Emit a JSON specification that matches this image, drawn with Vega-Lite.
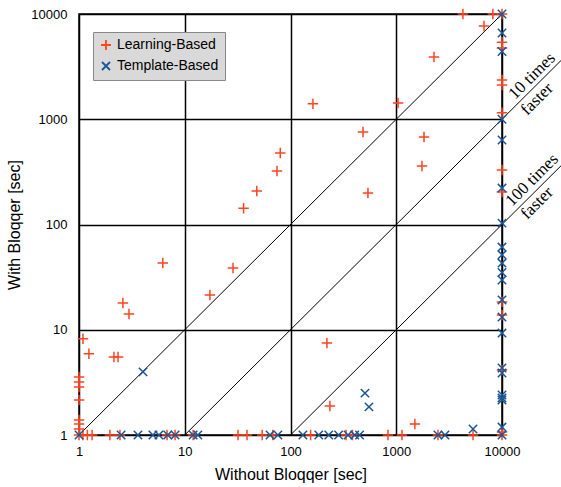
{
  "$schema": "https://vega.github.io/schema/vega-lite/v6.json",
  "autosize": "none",
  "width": 423,
  "height": 421,
  "padding": {"left": 79, "top": 14, "right": 59, "bottom": 52},
  "background": "white",
  "config": {
    "view": {"stroke": "black", "strokeWidth": 1.5},
    "font": "Liberation Sans",
    "axis": {
      "grid": true, "gridColor": "black", "gridWidth": 1.5, "gridOpacity": 1,
      "domain": false, "ticks": false, "labelFlush": false, "labelOverlap": false,
      "labelFont": "Liberation Sans", "labelFontSize": 13, "labelColor": "black",
      "titleFont": "Liberation Sans", "titleFontSize": 16, "titleFontWeight": "normal", "titleColor": "black"
    }
  },
  "datasets": {
    "pts": [
      {"x": 4270, "y": 10000, "g": "Learning-Based"},
      {"x": 8200, "y": 10000, "g": "Learning-Based"},
      {"x": 6760, "y": 7690, "g": "Learning-Based"},
      {"x": 2275, "y": 3900, "g": "Learning-Based"},
      {"x": 163, "y": 1400, "g": "Learning-Based"},
      {"x": 1040, "y": 1430, "g": "Learning-Based"},
      {"x": 485, "y": 757, "g": "Learning-Based"},
      {"x": 1830, "y": 678, "g": "Learning-Based"},
      {"x": 1750, "y": 360, "g": "Learning-Based"},
      {"x": 540, "y": 199, "g": "Learning-Based"},
      {"x": 80, "y": 478, "g": "Learning-Based"},
      {"x": 74.5, "y": 322, "g": "Learning-Based"},
      {"x": 48, "y": 208, "g": "Learning-Based"},
      {"x": 36, "y": 143, "g": "Learning-Based"},
      {"x": 6.2, "y": 43, "g": "Learning-Based"},
      {"x": 28.6, "y": 38.6, "g": "Learning-Based"},
      {"x": 17.3, "y": 21.4, "g": "Learning-Based"},
      {"x": 2.6, "y": 18, "g": "Learning-Based"},
      {"x": 2.97, "y": 14.1, "g": "Learning-Based"},
      {"x": 1.09, "y": 8.2, "g": "Learning-Based"},
      {"x": 1.24, "y": 5.9, "g": "Learning-Based"},
      {"x": 2.14, "y": 5.5, "g": "Learning-Based"},
      {"x": 2.34, "y": 5.5, "g": "Learning-Based"},
      {"x": 221, "y": 7.5, "g": "Learning-Based"},
      {"x": 236, "y": 1.89, "g": "Learning-Based"},
      {"x": 1500, "y": 1.27, "g": "Learning-Based"},
      {"x": 1, "y": 3.56, "g": "Learning-Based"},
      {"x": 1, "y": 3.19, "g": "Learning-Based"},
      {"x": 1, "y": 2.86, "g": "Learning-Based"},
      {"x": 1, "y": 2.15, "g": "Learning-Based"},
      {"x": 1, "y": 1.39, "g": "Learning-Based"},
      {"x": 1, "y": 1.27, "g": "Learning-Based"},
      {"x": 1, "y": 1.14, "g": "Learning-Based"},
      {"x": 1, "y": 1, "g": "Learning-Based"},
      {"x": 1.09, "y": 1, "g": "Learning-Based"},
      {"x": 1.2, "y": 1, "g": "Learning-Based"},
      {"x": 1.33, "y": 1, "g": "Learning-Based"},
      {"x": 1.96, "y": 1, "g": "Learning-Based"},
      {"x": 2.44, "y": 1, "g": "Learning-Based"},
      {"x": 6.8, "y": 1, "g": "Learning-Based"},
      {"x": 8.1, "y": 1, "g": "Learning-Based"},
      {"x": 12, "y": 1, "g": "Learning-Based"},
      {"x": 31.9, "y": 1, "g": "Learning-Based"},
      {"x": 38.8, "y": 1, "g": "Learning-Based"},
      {"x": 54, "y": 1, "g": "Learning-Based"},
      {"x": 68, "y": 1, "g": "Learning-Based"},
      {"x": 155, "y": 1, "g": "Learning-Based"},
      {"x": 335, "y": 1, "g": "Learning-Based"},
      {"x": 385, "y": 1, "g": "Learning-Based"},
      {"x": 835, "y": 1, "g": "Learning-Based"},
      {"x": 1133, "y": 1, "g": "Learning-Based"},
      {"x": 2480, "y": 1, "g": "Learning-Based"},
      {"x": 5320, "y": 1, "g": "Learning-Based"},
      {"x": 10000, "y": 1, "g": "Learning-Based"},
      {"x": 10000, "y": 10000, "g": "Learning-Based"},
      {"x": 10000, "y": 5400, "g": "Learning-Based"},
      {"x": 10000, "y": 4750, "g": "Learning-Based"},
      {"x": 10000, "y": 2360, "g": "Learning-Based"},
      {"x": 10000, "y": 2110, "g": "Learning-Based"},
      {"x": 10000, "y": 1150, "g": "Learning-Based"},
      {"x": 10000, "y": 330, "g": "Learning-Based"},
      {"x": 10000, "y": 204, "g": "Learning-Based"},
      {"x": 10000, "y": 18.4, "g": "Learning-Based"},
      {"x": 10000, "y": 13.8, "g": "Learning-Based"},
      {"x": 10000, "y": 4.15, "g": "Learning-Based"},
      {"x": 10000, "y": 1.07, "g": "Learning-Based"},
      {"x": 4.03, "y": 3.98, "g": "Template-Based"},
      {"x": 506, "y": 2.5, "g": "Template-Based"},
      {"x": 552, "y": 1.85, "g": "Template-Based"},
      {"x": 5320, "y": 1.14, "g": "Template-Based"},
      {"x": 1, "y": 1, "g": "Template-Based"},
      {"x": 2.5, "y": 1, "g": "Template-Based"},
      {"x": 3.61, "y": 1, "g": "Template-Based"},
      {"x": 5.0, "y": 1, "g": "Template-Based"},
      {"x": 5.7, "y": 1, "g": "Template-Based"},
      {"x": 6.9, "y": 1, "g": "Template-Based"},
      {"x": 8.1, "y": 1, "g": "Template-Based"},
      {"x": 12, "y": 1, "g": "Template-Based"},
      {"x": 13.3, "y": 1, "g": "Template-Based"},
      {"x": 64, "y": 1, "g": "Template-Based"},
      {"x": 76, "y": 1, "g": "Template-Based"},
      {"x": 131, "y": 1, "g": "Template-Based"},
      {"x": 185, "y": 1, "g": "Template-Based"},
      {"x": 230, "y": 1, "g": "Template-Based"},
      {"x": 285, "y": 1, "g": "Template-Based"},
      {"x": 350, "y": 1, "g": "Template-Based"},
      {"x": 405, "y": 1, "g": "Template-Based"},
      {"x": 450, "y": 1, "g": "Template-Based"},
      {"x": 2480, "y": 1, "g": "Template-Based"},
      {"x": 2890, "y": 1, "g": "Template-Based"},
      {"x": 10000, "y": 1, "g": "Template-Based"},
      {"x": 10000, "y": 10000, "g": "Template-Based"},
      {"x": 10000, "y": 6600, "g": "Template-Based"},
      {"x": 10000, "y": 4400, "g": "Template-Based"},
      {"x": 10000, "y": 1000, "g": "Template-Based"},
      {"x": 10000, "y": 635, "g": "Template-Based"},
      {"x": 10000, "y": 222, "g": "Template-Based"},
      {"x": 10000, "y": 103, "g": "Template-Based"},
      {"x": 10000, "y": 61, "g": "Template-Based"},
      {"x": 10000, "y": 51.5, "g": "Template-Based"},
      {"x": 10000, "y": 43, "g": "Template-Based"},
      {"x": 10000, "y": 35, "g": "Template-Based"},
      {"x": 10000, "y": 29.7, "g": "Template-Based"},
      {"x": 10000, "y": 19.2, "g": "Template-Based"},
      {"x": 10000, "y": 13.2, "g": "Template-Based"},
      {"x": 10000, "y": 9.3, "g": "Template-Based"},
      {"x": 10000, "y": 4.33, "g": "Template-Based"},
      {"x": 10000, "y": 3.88, "g": "Template-Based"},
      {"x": 10000, "y": 2.4, "g": "Template-Based"},
      {"x": 10000, "y": 2.25, "g": "Template-Based"},
      {"x": 10000, "y": 2.15, "g": "Template-Based"},
      {"x": 10000, "y": 1.19, "g": "Template-Based"}
    ],
    "diag": [
      {"line": "same", "x": 1, "y": 1},
      {"line": "same", "x": 10000, "y": 10000},
      {"line": "10x", "x": 10, "y": 1},
      {"line": "10x", "x": 39810, "y": 3981},
      {"line": "100x", "x": 100, "y": 1},
      {"line": "100x", "x": 39810, "y": 398.1}
    ],
    "notes": [
      {"x": 19230, "y": 2576, "t": "10 times"},
      {"x": 21440, "y": 1557, "t": "faster"},
      {"x": 19230, "y": 265, "t": "100 times"},
      {"x": 21440, "y": 160, "t": "faster"}
    ]
  },
  "layer": [
    {
      "data": {"name": "diag"},
      "mark": {"type": "line", "color": "black", "strokeWidth": 1, "clip": false},
      "encoding": {
        "x": {"field": "x", "type": "quantitative", "scale": {"type": "log", "domain": [1, 10000]}},
        "y": {"field": "y", "type": "quantitative", "scale": {"type": "log", "domain": [1, 10000]}},
        "detail": {"field": "line"}
      }
    },
    {
      "data": {"name": "pts"},
      "mark": {"type": "point", "filled": false, "strokeWidth": 1.5, "size": 110, "opacity": 1, "clip": false},
      "encoding": {
        "x": {
          "field": "x", "type": "quantitative",
          "scale": {"type": "log", "domain": [1, 10000]},
          "axis": {"values": [1, 10, 100, 1000, 10000], "format": "d", "labelPadding": 10, "title": "Without Bloqqer [sec]", "titlePadding": 8}
        },
        "y": {
          "field": "y", "type": "quantitative",
          "scale": {"type": "log", "domain": [1, 10000]},
          "axis": {"values": [1, 10, 100, 1000, 10000], "format": "d", "labelPadding": 12, "title": "With Bloqqer [sec]", "titlePadding": 8}
        },
        "color": {
          "field": "g", "type": "nominal",
          "scale": {"domain": ["Learning-Based", "Template-Based"], "range": ["#ff4422", "#1a5696"]},
          "legend": {
            "title": null, "orient": "none", "legendX": 14, "legendY": 18,
            "fillColor": "#d9d9d9", "strokeColor": "#888888", "padding": 6,
            "labelFont": "Liberation Sans", "labelFontSize": 14, "labelColor": "black",
            "symbolStrokeWidth": 1.8, "symbolSize": 100, "rowPadding": 4, "labelOffset": 4
          }
        },
        "shape": {
          "field": "g", "type": "nominal",
          "scale": {"domain": ["Learning-Based", "Template-Based"], "range": ["M-1,0L1,0M0,-1L0,1", "M-0.8,-0.8L0.8,0.8M-0.8,0.8L0.8,-0.8"]}
        }
      }
    },
    {
      "data": {"name": "notes"},
      "mark": {"type": "text", "font": "Liberation Serif", "fontSize": 17, "angle": -45, "align": "center", "baseline": "middle", "clip": false, "color": "black"},
      "encoding": {
        "x": {"field": "x", "type": "quantitative", "scale": {"type": "log", "domain": [1, 10000]}},
        "y": {"field": "y", "type": "quantitative", "scale": {"type": "log", "domain": [1, 10000]}},
        "text": {"field": "t"}
      }
    }
  ]
}
